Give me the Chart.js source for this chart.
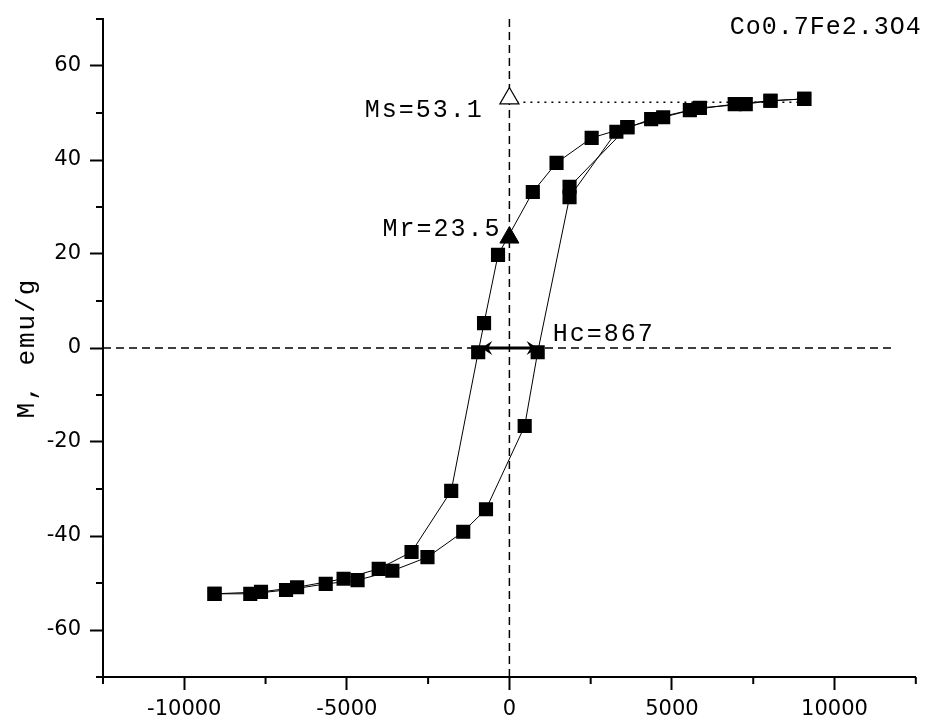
<!DOCTYPE html>
<html>
<head>
<meta charset="UTF-8">
<title>Co0.7Fe2.3O4 hysteresis loop</title>
<script src="https://cdn.jsdelivr.net/npm/chart.js"></script>
<style>
  body { margin: 0; background: #fff; }
  #wrap { width: 928px; height: 722px; }
</style>
</head>
<body>
<div id="wrap"><canvas id="loop" width="928" height="722"></canvas></div>
<script>
// H (Oe) and M (emu/g)
// descending branch, +H max -> -H max
const descH = [9070, 8030, 7270, 5860, 4730, 3630, 2530, 1450, 720, -350, -780, -960, -1790, -3010, -4020, -5100, -6530, -7640, -9070];
const descM = [53.0, 52.6, 51.9, 51.1, 49.1, 47.0, 44.7, 39.4, 33.2, 19.8, 5.3, -0.9, -30.4, -43.4, -47.0, -49.1, -50.9, -51.9, -52.3];
// ascending branch, -H max -> +H max
const ascH = [-9070, -7970, -6870, -5650, -4670, -3600, -2520, -1420, -720, 470, 870, 1850, 3290, 4360, 5550, 6930, 8030, 9070];
const ascM = [-52.3, -52.3, -51.5, -50.2, -49.4, -47.4, -44.5, -39.1, -34.3, -16.6, -0.9, 32.1, 46.0, 48.7, 50.6, 51.9, 52.6, 53.0];
// short extra segment near H = 1850
const extraH = [1850, 3630];
const extraM = [34.3, 47.0];

const Ms = 53.1;
const Mr = 23.5;
const Hc = 867;
const msLineM = 52.3;   // the dotted Ms guide sits a bit under the marker

const xLabels = [-10000, -5000, 0, 5000, 10000];
const yLabels = [-60, -40, -20, 0, 20, 40, 60];

// text placed in data units (left edge, baseline)
const notes = [
  { text: 'Ms=' + Ms, h: -4450, m: 49.1, sp: '2px' },
  { text: 'Mr=' + Mr, h: -3900, m: 23.8, sp: '2px' },
  { text: 'Hc=' + Hc, h: 1330, m: 1.5, sp: '2px' },
  { text: 'Co0.7Fe2.3O4', h: 6780, m: 66.8, sp: '1px' }
];

const pts = (hs, ms) => hs.map((h, i) => ({ x: h, y: ms[i] }));

const square = {
  showLine: true, borderColor: '#000', borderWidth: 1,
  pointStyle: 'rect', pointRadius: 10, pointHoverRadius: 10,
  pointBackgroundColor: '#000', pointBorderWidth: 0, order: 5
};
const guide = { showLine: true, borderColor: '#000', pointRadius: 0, order: 9 };

const extras = {
  id: 'extras',
  afterDatasetsDraw(chart) {
    const { ctx, scales: { x, y } } = chart;
    const y0 = y.getPixelForValue(0);
    const xl = x.getPixelForValue(-Hc), xr = x.getPixelForValue(Hc);
    ctx.save();
    ctx.fillStyle = '#000';
    ctx.strokeStyle = '#000';
    ctx.lineWidth = 3;
    ctx.beginPath();
    ctx.moveTo(xl + 5, y0);
    ctx.lineTo(xr - 5, y0);
    ctx.stroke();
    const head = (tx, dir) => {
      ctx.beginPath();
      ctx.moveTo(tx, y0);
      ctx.lineTo(tx - dir * 11, y0 - 7);
      ctx.lineTo(tx - dir * 7, y0);
      ctx.lineTo(tx - dir * 11, y0 + 7);
      ctx.closePath();
      ctx.fill();
    };
    head(xl, -1);
    head(xr, 1);

    ctx.font = '25px "Liberation Mono"';
    ctx.textAlign = 'left';
    ctx.textBaseline = 'alphabetic';
    notes.forEach(n => {
      ctx.letterSpacing = n.sp;
      ctx.fillText(n.text, x.getPixelForValue(n.h), y.getPixelForValue(n.m));
    });
    ctx.restore();
  },
  afterDraw(chart) {
    const { ctx, chartArea, scales: { x, y } } = chart;
    ctx.save();
    ctx.strokeStyle = '#000';
    ctx.lineWidth = 2;
    // minor ticks, shorter than the labelled ones
    ctx.beginPath();
    x.ticks.forEach(t => {
      if (xLabels.includes(t.value)) return;
      const px = x.getPixelForValue(t.value);
      ctx.moveTo(px, chartArea.bottom);
      ctx.lineTo(px, chartArea.bottom + 7);
    });
    y.ticks.forEach(t => {
      if (yLabels.includes(t.value)) return;
      const py = y.getPixelForValue(t.value);
      ctx.moveTo(chartArea.left, py);
      ctx.lineTo(chartArea.left - 7, py);
    });
    ctx.stroke();

    ctx.fillStyle = '#000';
    ctx.font = '26px "Liberation Mono"';
    ctx.letterSpacing = '2px';
    ctx.translate(34, (chartArea.top + chartArea.bottom) / 2);
    ctx.rotate(-Math.PI / 2);
    ctx.textAlign = 'center';
    ctx.textBaseline = 'alphabetic';
    ctx.fillText('M, emu/g', 0, 0);
    ctx.restore();
  }
};

const tickFont = { family: '"DejaVu Sans", sans-serif', size: 21 };

new Chart(document.getElementById('loop'), {
  type: 'scatter',
  data: {
    datasets: [
      { ...guide, data: [{ x: -12500, y: 0 }, { x: 11750, y: 0 }], borderWidth: 1.5, borderDash: [8, 5] },
      { ...guide, data: [{ x: 0, y: -70 }, { x: 0, y: 70 }], borderWidth: 1.5, borderDash: [8, 5] },
      { ...guide, data: [{ x: 0, y: msLineM }, { x: 9000, y: msLineM }], borderWidth: 1.5, borderDash: [2, 5] },
      { ...square, data: pts(descH, descM) },
      { ...square, data: pts(ascH, ascM) },
      { ...square, data: pts(extraH, extraM) },
      { data: [{ x: 0, y: Mr }], pointStyle: 'triangle', pointRadius: 11, pointHoverRadius: 11,
        pointBackgroundColor: '#000', pointBorderColor: '#000', pointBorderWidth: 1, order: 1 },
      { data: [{ x: 0, y: Ms }], pointStyle: 'triangle', pointRadius: 11, pointHoverRadius: 11,
        pointBackgroundColor: '#fff', pointBorderColor: '#000', pointBorderWidth: 1.2, order: 1 }
    ]
  },
  options: {
    responsive: false,
    animation: false,
    devicePixelRatio: 1,
    layout: { padding: { top: 19, right: 7, left: 0, bottom: 0 } },
    plugins: { legend: { display: false }, tooltip: { enabled: false } },
    scales: {
      x: {
        type: 'linear', min: -12500, max: 12500,
        afterFit(s) { s.height = 45; s.paddingLeft = 0; s.paddingRight = 0; },
        border: { display: true, color: '#000', width: 2 },
        grid: {
          drawOnChartArea: false, tickLength: 13, tickWidth: 2,
          tickColor: c => xLabels.includes(c.tick.value) ? '#000' : 'rgba(0,0,0,0)'
        },
        ticks: {
          stepSize: 2500, autoSkip: false, maxRotation: 0, padding: 7,
          color: '#000', font: tickFont,
          callback: v => xLabels.includes(v) ? String(v) : ''
        }
      },
      y: {
        type: 'linear', min: -70, max: 70,
        afterFit(s) { s.width = 103; s.paddingTop = 0; s.paddingBottom = 0; },
        border: { display: true, color: '#000', width: 2 },
        grid: {
          drawOnChartArea: false, tickLength: 13, tickWidth: 2,
          tickColor: c => yLabels.includes(c.tick.value) ? '#000' : 'rgba(0,0,0,0)'
        },
        ticks: {
          stepSize: 10, autoSkip: false, padding: 9,
          color: '#000', font: tickFont,
          callback: v => yLabels.includes(v) ? String(v) : ''
        }
      }
    }
  },
  plugins: [extras]
});
</script>
</body>
</html>
